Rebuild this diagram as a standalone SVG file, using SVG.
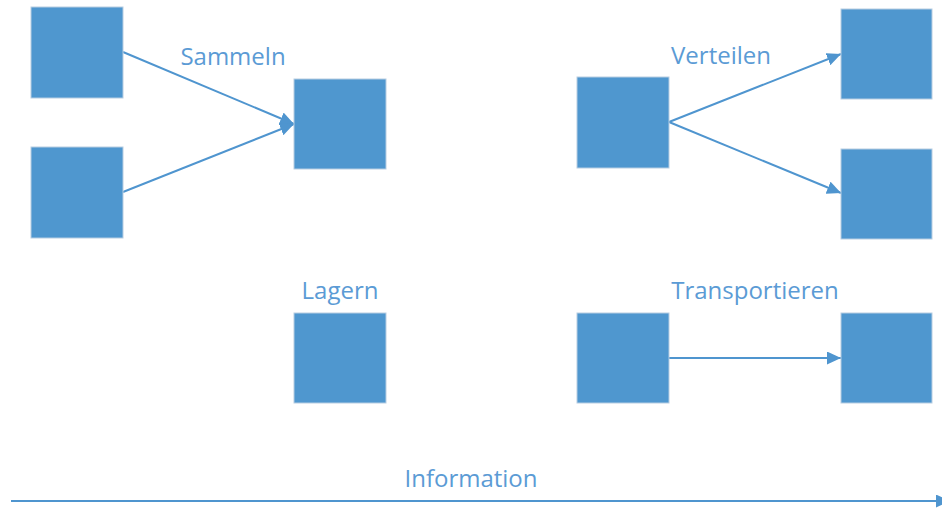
<svg xmlns="http://www.w3.org/2000/svg" width="942" height="508" viewBox="0 0 942 508">
<style>
.box{fill:#4f97cf;stroke:#b7cde2;stroke-width:1}
.lbl{font-family:"Open Sans","Liberation Sans",sans-serif;font-size:24px;fill:#5b9bd5;text-anchor:middle}
.con{stroke:#4f95cf;stroke-width:2;fill:none;marker-end:url(#ah)}
</style>
<defs>
<marker id="ah" markerUnits="userSpaceOnUse" viewBox="0 0 14 13" markerWidth="14" markerHeight="13" refX="14" refY="6.5" orient="auto">
<path d="M0,0 L14,6.5 L0,13 z" fill="#4f95cf"/>
</marker>
</defs>
<rect width="942" height="508" fill="#ffffff"/>
<g id="connectors">
<line class="con" x1="123" y1="52" x2="294" y2="124"/>
<line class="con" x1="123" y1="192" x2="294" y2="124"/>
<line class="con" x1="669" y1="122" x2="841" y2="54"/>
<line class="con" x1="669" y1="122" x2="841" y2="193"/>
<line class="con" x1="669" y1="358" x2="841" y2="358"/>
<line class="con" x1="11" y1="501" x2="950" y2="501" stroke-width="2.5"/>
</g>
<g id="n1"><rect class="box" x="31" y="7" width="92" height="91"/></g>
<g id="n2"><rect class="box" x="31" y="147" width="92" height="91"/></g>
<g id="n3"><rect class="box" x="294" y="79" width="92" height="90"/></g>
<g id="n4"><rect class="box" x="577" y="77" width="92" height="91"/></g>
<g id="n5"><rect class="box" x="841" y="9" width="91" height="90"/></g>
<g id="n6"><rect class="box" x="841" y="149" width="91" height="90"/></g>
<g id="n7"><rect class="box" x="294" y="313" width="92" height="90"/></g>
<g id="n8"><rect class="box" x="577" y="313" width="92" height="90"/></g>
<g id="n9"><rect class="box" x="841" y="313" width="91" height="90"/></g>
<g id="labels">
<text class="lbl" x="233" y="65">Sammeln</text>
<text class="lbl" x="721" y="64">Verteilen</text>
<text class="lbl" x="340" y="299">Lagern</text>
<text class="lbl" x="755" y="299">Transportieren</text>
<text class="lbl" x="471" y="487">Information</text>
</g>
</svg>
